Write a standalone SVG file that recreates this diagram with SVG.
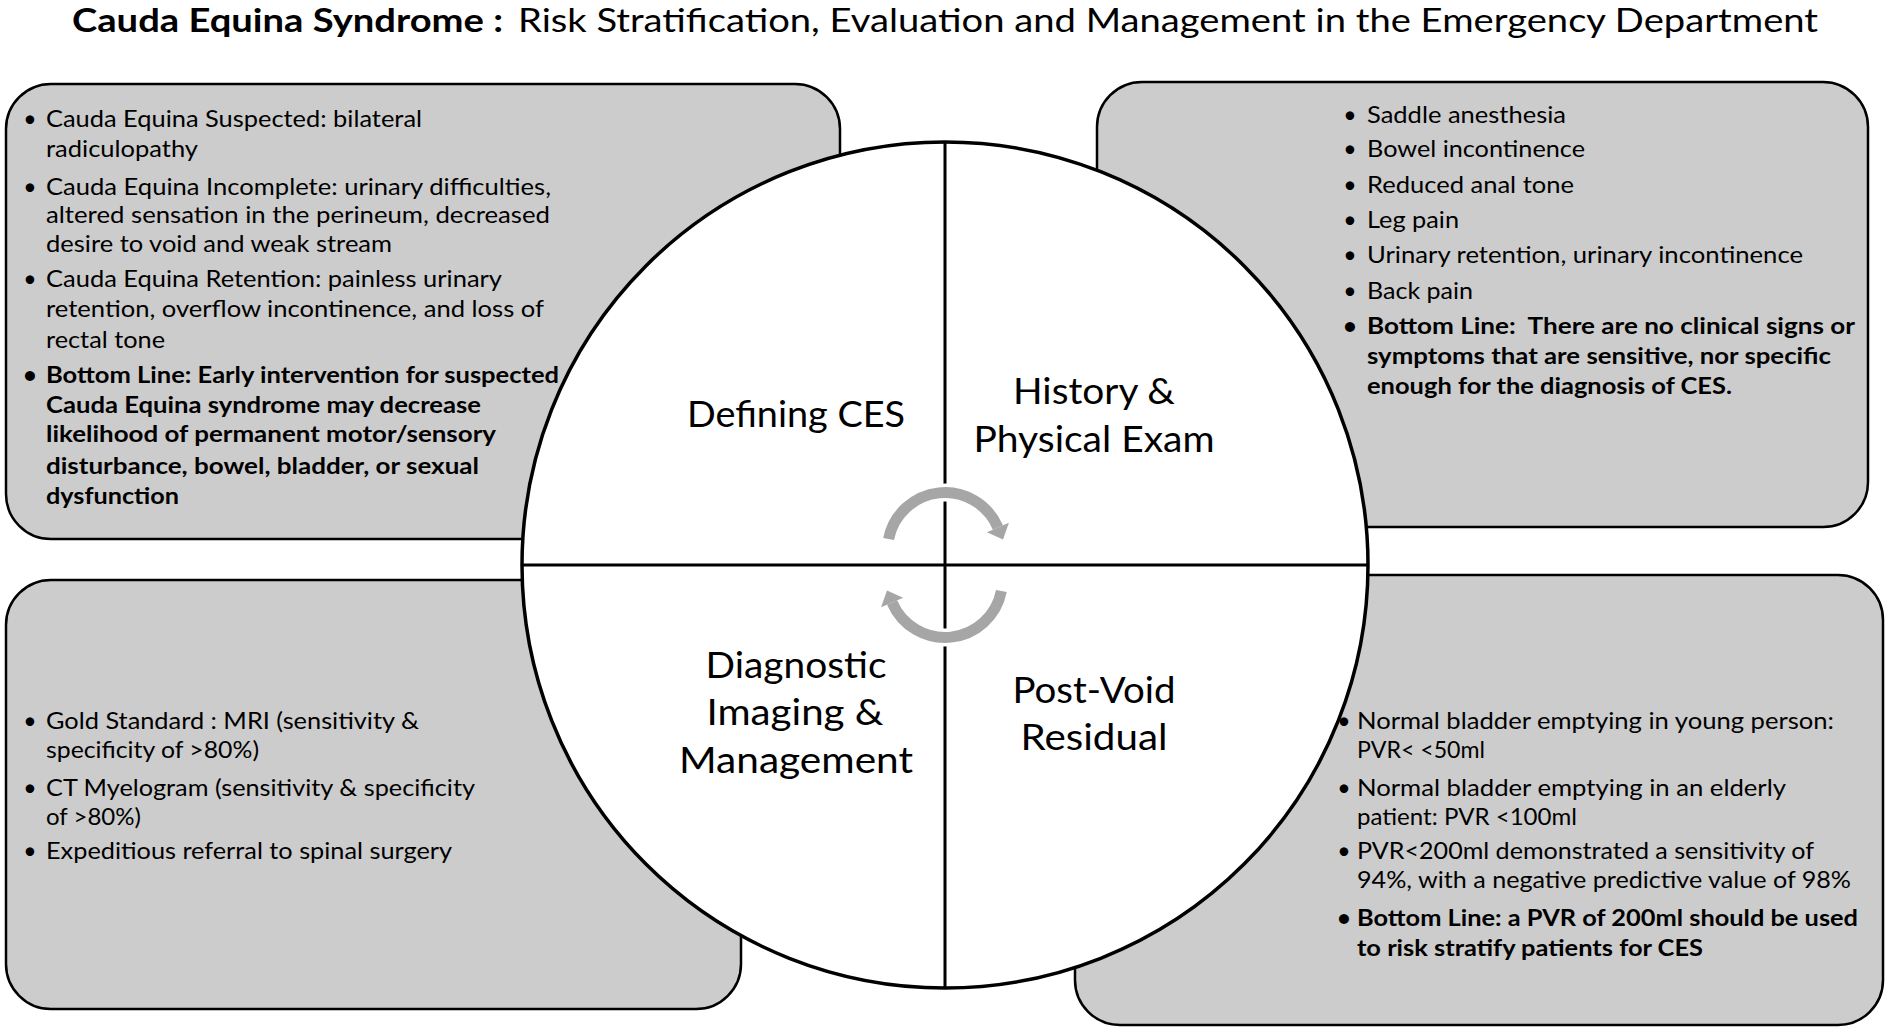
<svg xmlns="http://www.w3.org/2000/svg" width="1890" height="1032" viewBox="0 0 1890 1032">
<style>
text{font-family:Lato,"Open Sans","Liberation Sans",sans-serif;fill:#000}
.t{font-size:23px}
.b{font-weight:bold}
.bul{font-size:23px;text-anchor:middle}
.lbl{font-size:36px;text-anchor:middle}
.title{font-size:32px}
.box{fill:#cccccc;stroke:#000;stroke-width:2.5}
.pre{white-space:pre}
</style>
<rect width="1890" height="1032" fill="#fff"/>
<g id="title">
<text class="title b" x="72" y="32" textLength="431" lengthAdjust="spacingAndGlyphs">Cauda Equina Syndrome :</text>
<text class="title" x="518" y="32" textLength="1300" lengthAdjust="spacingAndGlyphs">Risk Stratification, Evaluation and Management in the Emergency Department</text>
</g>
<g id="box-defining">
<rect class="box" x="6" y="84" width="834" height="455" rx="45"/>
<text class="bul" x="30" y="126.6">•</text>
<text class="bul" x="30" y="195.3">•</text>
<text class="bul" x="30" y="286.9">•</text>
<text class="bul b" x="30" y="383.3">•</text>
<text class="t" x="46" y="126.6" textLength="376" lengthAdjust="spacingAndGlyphs">Cauda Equina Suspected: bilateral</text>
<text class="t" x="46" y="156.7" textLength="152" lengthAdjust="spacingAndGlyphs">radiculopathy</text>
<text class="t" x="46" y="195.3" textLength="505" lengthAdjust="spacingAndGlyphs">Cauda Equina Incomplete: urinary difficulties,</text>
<text class="t" x="46" y="223" textLength="504" lengthAdjust="spacingAndGlyphs">altered sensation in the perineum, decreased</text>
<text class="t" x="46" y="252" textLength="346" lengthAdjust="spacingAndGlyphs">desire to void and weak stream</text>
<text class="t" x="46" y="286.9" textLength="456" lengthAdjust="spacingAndGlyphs">Cauda Equina Retention: painless urinary</text>
<text class="t" x="46" y="317" textLength="498" lengthAdjust="spacingAndGlyphs">retention, overflow incontinence, and loss of</text>
<text class="t" x="46" y="348.4" textLength="119" lengthAdjust="spacingAndGlyphs">rectal tone</text>
<text class="t b" x="46" y="383.3" textLength="513" lengthAdjust="spacingAndGlyphs">Bottom Line: Early intervention for suspected</text>
<text class="t b" x="46" y="413.4" textLength="435" lengthAdjust="spacingAndGlyphs">Cauda Equina syndrome may decrease</text>
<text class="t b" x="46" y="442.4" textLength="450" lengthAdjust="spacingAndGlyphs">likelihood of permanent motor/sensory</text>
<text class="t b" x="46" y="473.7" textLength="433" lengthAdjust="spacingAndGlyphs">disturbance, bowel, bladder, or sexual</text>
<text class="t b" x="46" y="503.9" textLength="133" lengthAdjust="spacingAndGlyphs">dysfunction</text>
</g>
<g id="box-history">
<rect class="box" x="1097" y="82" width="771" height="445" rx="45"/>
<text class="bul" x="1350" y="123">•</text>
<text class="bul" x="1350" y="156.7">•</text>
<text class="bul" x="1350" y="192.9">•</text>
<text class="bul" x="1350" y="227.8">•</text>
<text class="bul" x="1350" y="262.8">•</text>
<text class="bul" x="1350" y="298.9">•</text>
<text class="bul b" x="1350" y="333.9">•</text>
<text class="t" x="1367" y="123" textLength="199" lengthAdjust="spacingAndGlyphs">Saddle anesthesia</text>
<text class="t" x="1367" y="156.7" textLength="218" lengthAdjust="spacingAndGlyphs">Bowel incontinence</text>
<text class="t" x="1367" y="192.9" textLength="207" lengthAdjust="spacingAndGlyphs">Reduced anal tone</text>
<text class="t" x="1367" y="227.8" textLength="92" lengthAdjust="spacingAndGlyphs">Leg pain</text>
<text class="t" x="1367" y="262.8" textLength="436" lengthAdjust="spacingAndGlyphs">Urinary retention, urinary incontinence</text>
<text class="t" x="1367" y="298.9" textLength="106" lengthAdjust="spacingAndGlyphs">Back pain</text>
<text class="t b pre" x="1367" y="333.9" textLength="488" lengthAdjust="spacingAndGlyphs">Bottom Line:  There are no clinical signs or</text>
<text class="t b" x="1367" y="364" textLength="464" lengthAdjust="spacingAndGlyphs">symptoms that are sensitive, nor specific</text>
<text class="t b" x="1367" y="394.2" textLength="365" lengthAdjust="spacingAndGlyphs">enough for the diagnosis of CES.</text>
</g>
<g id="box-imaging">
<rect class="box" x="6" y="580" width="735" height="429" rx="45"/>
<text class="bul" x="30" y="729.3">•</text>
<text class="bul" x="30" y="795.6">•</text>
<text class="bul" x="30" y="859.4">•</text>
<text class="t" x="46" y="729.3" textLength="373" lengthAdjust="spacingAndGlyphs">Gold Standard : MRI (sensitivity &amp;</text>
<text class="t" x="46" y="758.2" textLength="213" lengthAdjust="spacingAndGlyphs">specificity of &gt;80%)</text>
<text class="t" x="46" y="795.6" textLength="429" lengthAdjust="spacingAndGlyphs">CT Myelogram (sensitivity &amp; specificity</text>
<text class="t" x="46" y="824.5" textLength="95" lengthAdjust="spacingAndGlyphs">of &gt;80%)</text>
<text class="t" x="46" y="859.4" textLength="406" lengthAdjust="spacingAndGlyphs">Expeditious referral to spinal surgery</text>
</g>
<g id="box-pvr">
<rect class="box" x="1075" y="575" width="808" height="450" rx="45"/>
<text class="bul" x="1344" y="729.3">•</text>
<text class="bul" x="1344" y="795.6">•</text>
<text class="bul" x="1344" y="859.4">•</text>
<text class="bul b" x="1344" y="925.7">•</text>
<text class="t" x="1357" y="729.3" textLength="477" lengthAdjust="spacingAndGlyphs">Normal bladder emptying in young person:</text>
<text class="t" x="1357" y="758.2" textLength="128" lengthAdjust="spacingAndGlyphs">PVR&lt; &lt;50ml</text>
<text class="t" x="1357" y="795.6" textLength="429" lengthAdjust="spacingAndGlyphs">Normal bladder emptying in an elderly</text>
<text class="t" x="1357" y="824.5" textLength="220" lengthAdjust="spacingAndGlyphs">patient: PVR &lt;100ml</text>
<text class="t" x="1357" y="859.4" textLength="457" lengthAdjust="spacingAndGlyphs">PVR&lt;200ml demonstrated a sensitivity of</text>
<text class="t" x="1357" y="888.4" textLength="494" lengthAdjust="spacingAndGlyphs">94%, with a negative predictive value of 98%</text>
<text class="t b" x="1357" y="925.7" textLength="501" lengthAdjust="spacingAndGlyphs">Bottom Line: a PVR of 200ml should be used</text>
<text class="t b" x="1357" y="955.9" textLength="346" lengthAdjust="spacingAndGlyphs">to risk stratify patients for CES</text>
</g>
<g id="hub">
<circle cx="945" cy="565" r="423" fill="#fff" stroke="#000" stroke-width="3.5"/>
<line x1="945" y1="142" x2="945" y2="988" stroke="#000" stroke-width="3"/>
<line x1="522" y1="565" x2="1368" y2="565" stroke="#000" stroke-width="3"/>
</g>
<g id="quad-defining"><text class="lbl" x="796" y="427" textLength="218" lengthAdjust="spacingAndGlyphs">Defining CES</text></g>
<g id="quad-history">
<text class="lbl" x="1094" y="404" textLength="162" lengthAdjust="spacingAndGlyphs">History &amp;</text>
<text class="lbl" x="1094" y="451.5" textLength="241" lengthAdjust="spacingAndGlyphs">Physical Exam</text>
</g>
<g id="quad-imaging">
<text class="lbl" x="796" y="678" textLength="181" lengthAdjust="spacingAndGlyphs">Diagnostic</text>
<text class="lbl" x="795" y="725" textLength="177" lengthAdjust="spacingAndGlyphs">Imaging &amp;</text>
<text class="lbl" x="796" y="773" textLength="234" lengthAdjust="spacingAndGlyphs">Management</text>
</g>
<g id="quad-pvr">
<text class="lbl" x="1094" y="703" textLength="163" lengthAdjust="spacingAndGlyphs">Post-Void</text>
<text class="lbl" x="1094" y="750" textLength="147" lengthAdjust="spacingAndGlyphs">Residual</text>
</g>
<defs>
<g id="cyc">
<path d="M888.6 539 A57.5 57.5 0 0 1 997.9 527.5" fill="none" stroke="#fff" stroke-width="18"/>
<path d="M888.6 539 A57.5 57.5 0 0 1 997.9 527.5" fill="none" stroke="#a6a6a6" stroke-width="11"/>
<polygon points="1008.9,522.8 1003,539.5 986.9,532.2" fill="#a6a6a6"/>
</g>
</defs>
<g id="connectors">
<use href="#cyc"/>
<use href="#cyc" transform="rotate(180 945 565)"/>
</g>
</svg>
